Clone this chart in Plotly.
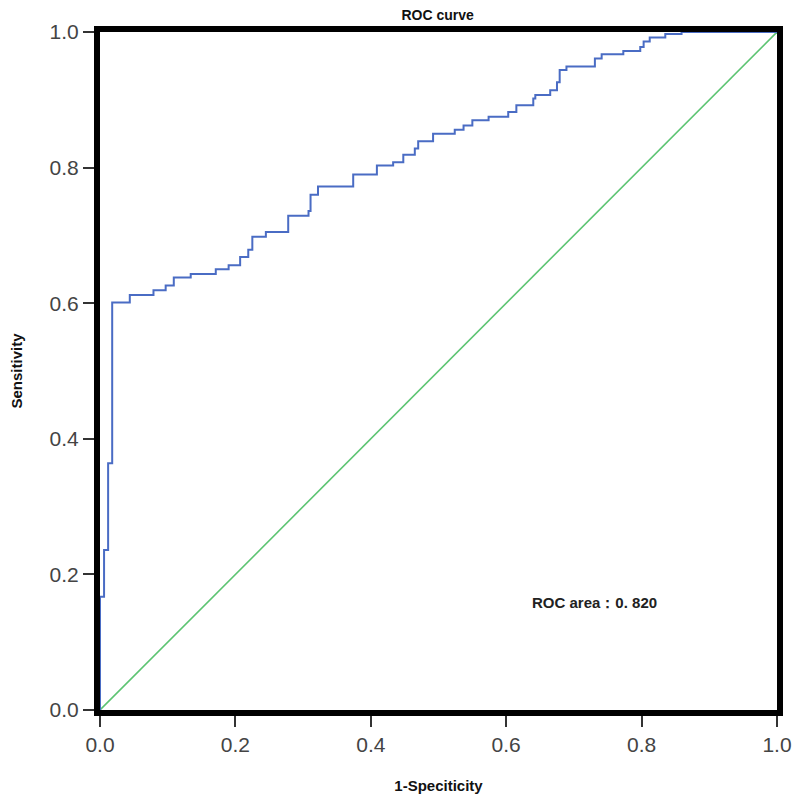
import plotly.graph_objects as go

# ROC step curve (1-specificity, sensitivity)
fpr = [0.0, 0.0, 0.006, 0.012, 0.018, 0.044, 0.079, 0.097, 0.109, 0.134, 0.171, 0.190,
       0.207, 0.219, 0.225, 0.245, 0.278, 0.308, 0.311, 0.322, 0.374, 0.409, 0.433,
       0.448, 0.465, 0.470, 0.492, 0.524, 0.537, 0.550, 0.574, 0.603, 0.615, 0.640,
       0.643, 0.665, 0.675, 0.679, 0.689, 0.731, 0.741, 0.773, 0.798, 0.803, 0.812,
       0.835, 0.859, 1.0]
tpr = [0.0, 0.167, 0.236, 0.364, 0.601, 0.612, 0.619, 0.626, 0.638, 0.643, 0.650, 0.656,
       0.668, 0.679, 0.698, 0.705, 0.729, 0.736, 0.760, 0.772, 0.790, 0.803, 0.808,
       0.819, 0.828, 0.839, 0.850, 0.856, 0.862, 0.870, 0.875, 0.882, 0.892, 0.902,
       0.907, 0.914, 0.926, 0.944, 0.949, 0.961, 0.967, 0.972, 0.978, 0.986, 0.992,
       0.997, 1.0, 1.0]
ref_x = [0.0, 1.0]
ref_y = [0.0, 1.0]
tick_vals = [0.0, 0.2, 0.4, 0.6, 0.8, 1.0]
tick_text = ["0.0", "0.2", "0.4", "0.6", "0.8", "1.0"]
auc_text = "ROC area：0. 820"

fig = go.Figure()
fig.add_trace(go.Scatter(x=ref_x, y=ref_y, mode="lines",
                         line=dict(color="#5cc472", width=1.6), showlegend=False))
fig.add_trace(go.Scatter(x=fpr, y=tpr, mode="lines", line_shape="hv",
                         line=dict(color="#4a6cc4", width=2), showlegend=False))

fig.add_annotation(x=0.635, y=0.158, xref="x", yref="y", text="<b>" + auc_text + "</b>",
                   showarrow=False, xanchor="left", yanchor="middle",
                   font=dict(family="Liberation Sans, Arial", size=15, color="#222"))

tick_font = dict(family="Liberation Sans Narrow, Arial Narrow, Liberation Sans", size=21, color="#444")
axis_common = dict(range=[0, 1], tickvals=tick_vals, ticktext=tick_text,
                   showline=True, linecolor="black", linewidth=6, mirror=True,
                   ticks="outside", ticklen=11, tickwidth=2, tickcolor="#333",
                   showgrid=False, zeroline=False, tickfont=tick_font, automargin=False)

fig.update_layout(
    width=784, height=786,
    margin=dict(l=92, r=15, t=24, b=84),
    paper_bgcolor="white", plot_bgcolor="white",
    title=dict(text="<b>ROC curve</b>", x=0.548, xanchor="center", y=0.991, yanchor="middle",
               font=dict(family="Liberation Sans, Arial", size=14, color="#111")),
    xaxis=dict(**axis_common,
               title=dict(text="<b>1-Speciticity</b>", standoff=28,
                          font=dict(family="Liberation Sans, Arial", size=15, color="#111"))),
    yaxis=dict(**axis_common,
               title=dict(text="<b>Sensitivity</b>", standoff=46,
                          font=dict(family="Liberation Sans, Arial", size=15, color="#111"))),
)

fig.write_html("out.html")
